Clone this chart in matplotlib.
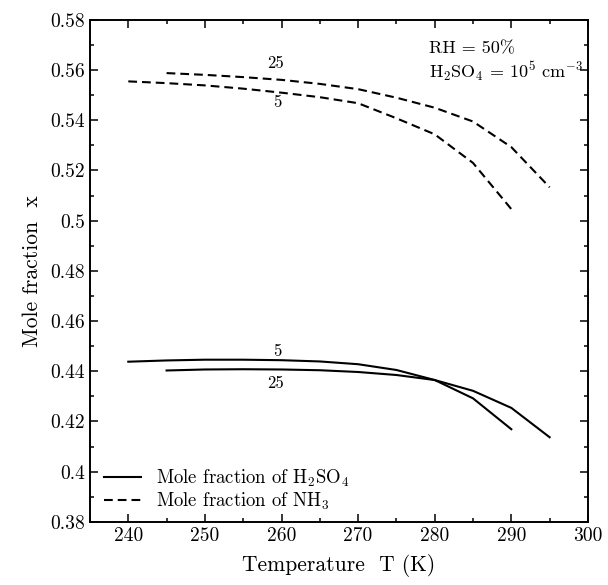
import matplotlib
matplotlib.use("Agg")
import matplotlib.pyplot as plt
from matplotlib.ticker import MultipleLocator

plt.rcParams['font.family'] = 'serif'
plt.rcParams['font.serif'] = ['cmr10', 'DejaVu Serif']
plt.rcParams['mathtext.fontset'] = 'cm'
plt.rcParams['axes.formatter.use_mathtext'] = True

# H2SO4 mole fraction, labelled 5 and 25
t_s5 = [240, 245, 250, 255, 260, 265, 270, 275, 280, 285, 290]
x_s5 = [0.4438, 0.4443, 0.4446, 0.4446, 0.4444, 0.4439, 0.4428, 0.4405, 0.4365, 0.4292, 0.4169]
t_s25 = [245, 250, 255, 260, 265, 270, 275, 280, 285, 290, 295]
x_s25 = [0.4403, 0.4407, 0.4408, 0.4407, 0.4404, 0.4397, 0.4385, 0.4365, 0.4322, 0.4254, 0.4137]

# NH3 mole fraction, labelled 5 and 25
t_n5 = [240, 245, 250, 255, 260, 265, 270, 275, 280, 285, 290]
x_n5 = [0.5555, 0.5548, 0.5539, 0.5526, 0.5510, 0.5492, 0.5468, 0.5408, 0.5344, 0.5230, 0.5046]
t_n25 = [245, 250, 255, 260, 265, 270, 275, 280, 285, 290, 295]
x_n25 = [0.5588, 0.5581, 0.5572, 0.5561, 0.5545, 0.5524, 0.5490, 0.5450, 0.5395, 0.5293, 0.5133]

xticks = [240, 250, 260, 270, 280, 290, 300]
yticks = [0.38, 0.40, 0.42, 0.44, 0.46, 0.48, 0.50, 0.52, 0.54, 0.56, 0.58]
ytick_labels = ['0.38', '0.4', '0.42', '0.44', '0.46', '0.48', '0.5', '0.52', '0.54', '0.56', '0.58']

fig = plt.figure(figsize=(6.08, 5.85), dpi=100)
ax = fig.add_axes([0.148, 0.108, 0.819, 0.858])

dash = (0, (4.2, 2.4))
ax.plot(t_s5, x_s5, color='black', lw=1.5, label='Mole fraction of H$_2$SO$_4$')
ax.plot(t_s25, x_s25, color='black', lw=1.5)
ax.plot(t_n5, x_n5, color='black', lw=1.5, linestyle=dash, label='Mole fraction of NH$_3$')
ax.plot(t_n25, x_n25, color='black', lw=1.5, linestyle=dash)

# curve labels
ax.text(259.2, 0.5625, '25', fontsize=12, ha='center', va='center')
ax.text(259.5, 0.5470, '5', fontsize=12, ha='center', va='center')
ax.text(259.5, 0.4480, '5', fontsize=12, ha='center', va='center')
ax.text(259.2, 0.4350, '25', fontsize=12, ha='center', va='center')

ax.text(279.3, 0.5686, 'RH = 50%', fontsize=13, ha='left', va='center')
ax.text(279.3, 0.5596, r'H$_2$SO$_4$ = 10$^5$ cm$^{-3}$', fontsize=13, ha='left', va='center')

ax.set_xlim(235, 300)
ax.set_ylim(0.38, 0.58)
ax.set_xticks(xticks)
ax.set_xticklabels([str(v) for v in xticks])
ax.set_yticks(yticks)
ax.set_yticklabels(ytick_labels)
ax.xaxis.set_minor_locator(MultipleLocator(5))
ax.yaxis.set_minor_locator(MultipleLocator(0.01))
ax.tick_params(which='both', direction='in', top=True, right=True, labelsize=14)
ax.tick_params(which='major', length=6, width=1.1)
ax.tick_params(which='minor', length=3, width=1.1)
for s in ax.spines.values():
    s.set_linewidth(1.4)

ax.set_xlabel('Temperature  T (K)', fontsize=15.5, labelpad=7)
ax.set_ylabel('Mole fraction  x', fontsize=15.5, labelpad=6)

ax.legend(loc='lower left', bbox_to_anchor=(0.016, 0.008), frameon=False,
          fontsize=13.5, handlelength=2.0, borderaxespad=0.0, borderpad=0.3,
          labelspacing=0.1, handletextpad=0.8)

fig.savefig('out.png', dpi=100)
